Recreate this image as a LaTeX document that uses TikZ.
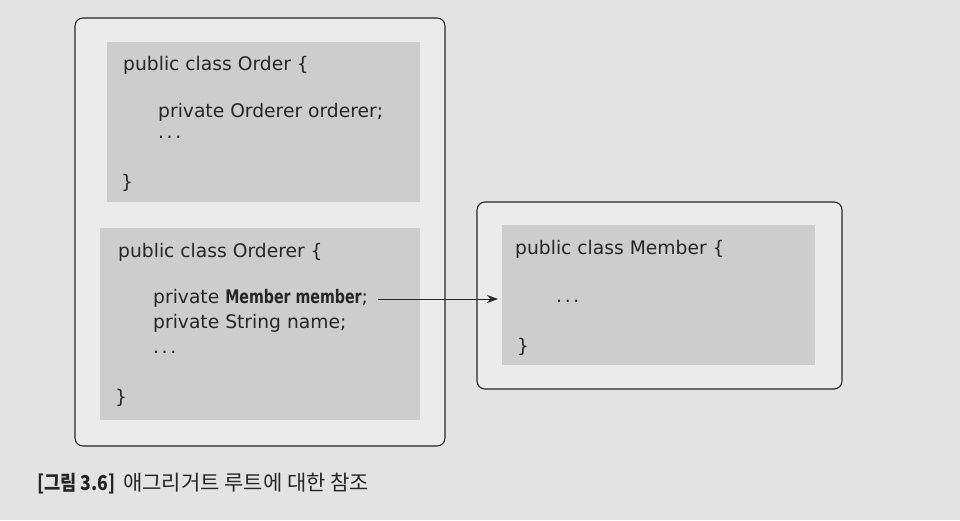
\documentclass[tikz,border=0pt]{standalone}
\usepackage{fontspec}
\setmainfont{DejaVu Sans}
\newfontfamily\codebold[FakeStretch=0.76]{DejaVu Sans Bold}
\newfontfamily\cjk{Noto Sans CJK KR}
\newfontfamily\cjkcond[FakeStretch=0.86]{Noto Sans CJK KR}
\usetikzlibrary{arrows.meta}
\definecolor{pagebg}{HTML}{E3E3E3}
\definecolor{outerfill}{HTML}{EBEBEB}
\definecolor{codefill}{HTML}{CDCDCD}
\definecolor{inkc}{HTML}{262626}
\newcommand{\mydots}{.\kern2.6pt.\kern2.6pt.}
\tikzset{
  outerbox/.style={draw=inkc, line width=1.1pt, fill=outerfill, rounded corners=8pt},
  codebox/.style={fill=codefill, draw=none},
  code/.style={anchor=base west, inner sep=0pt, text=inkc, font=\fontsize{18.7}{22}\selectfont},
  captext/.style={anchor=base west, inner sep=0pt, text=inkc, font=\cjk\fontsize{21}{24}\selectfont},
  capbold/.style={anchor=base west, inner sep=0pt, text=inkc, font=\cjkcond\bfseries\fontsize{20.5}{24}\selectfont},
  refarrow/.style={draw=inkc, line width=1pt, -{Stealth[length=11pt,width=8pt]}}
}
\begin{document}
\begin{tikzpicture}[x=1pt,y=-1pt]
\useasboundingbox (0,0) rectangle (960,520);
\fill[pagebg] (0,0) rectangle (960,520);
% left outer box
\draw[outerbox] (75,18) rectangle (445,446);
\fill[codebox] (107,42) rectangle (420,202);
\fill[codebox] (100,228) rectangle (420,420);
% right outer box
\draw[outerbox] (477,202) rectangle (842,389);
\fill[codebox] (502,225) rectangle (815,365);
% Order
\node[code] (o1) at (123,70) {public class Order \{};
\node[code] (o2) at (158,117) {private Orderer orderer;};
\node[code] (o3) at (158,138) {\mydots};
\node[code] (o4) at (121,188) {\}};
% Orderer
\node[code] (r1) at (118,257) {public class Orderer \{};
\node[code] (mm) at (153,303) {private {\codebold Member member};};
\node[code] (r3) at (153,328) {private String name;};
\node[code] (r4) at (153,353) {\mydots};
\node[code] (r5) at (115,403) {\}};
% Member
\node[code] (m1) at (515,254) {public class Member \{};
\node[code] (m2) at (556,302) {\mydots};
\node[code] (m3) at (517,352) {\}};
% arrow
\coordinate (astart) at ([xshift=10pt]mm.base east);
\coordinate (aend) at (498,299);
\draw[refarrow] (astart |- aend) -- (aend);
% caption
\node[capbold] (c1) at (37,490) {[그림 3.6]};
\node[captext] (c2) at (123,490) {애그리거트 루트에 대한 참조};
\end{tikzpicture}
\end{document}
